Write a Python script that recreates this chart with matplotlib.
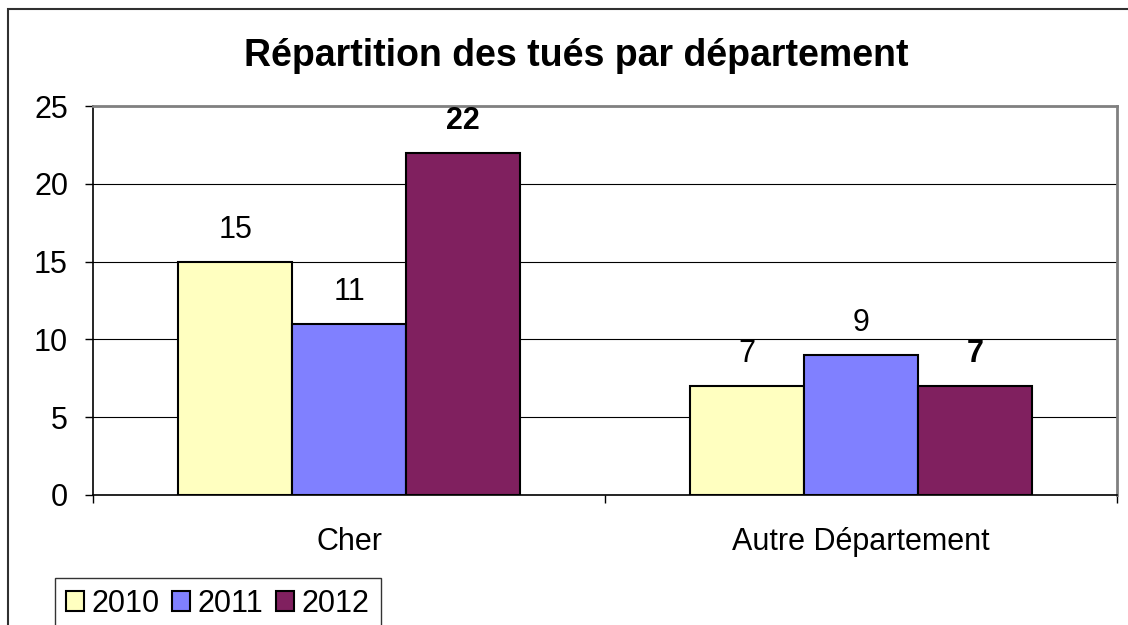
import numpy as np
import matplotlib.pyplot as plt
from matplotlib.patches import Rectangle

plt.rcParams['font.family'] = ['Liberation Sans', 'DejaVu Sans']

categories = ['Cher', 'Autre Département']
years = ['2010', '2011', '2012']
values_2010 = [15, 7]
values_2011 = [11, 9]
values_2012 = [22, 7]
colors = ['#FFFFC0', '#8080FF', '#80205F']

fig = plt.figure(figsize=(11.28, 6.25), dpi=100)
ax = fig.add_axes([93 / 1128, 130 / 625, 1024 / 1128, 389 / 625])

x = np.arange(len(categories))
w = 1 / 4.5
series = [values_2010, values_2011, values_2012]
for i, (vals, col, yr) in enumerate(zip(series, colors, years)):
    bars = ax.bar(x + (i - 1) * w, vals, w, color=col, edgecolor='black',
                  linewidth=1.5, label=yr, zorder=3)
    weight = 'bold' if yr == '2012' else 'normal'
    for b, v in zip(bars, vals):
        ax.annotate(str(v), (b.get_x() + b.get_width() / 2, v),
                    xytext=(0, 12), textcoords='offset points',
                    ha='center', va='bottom', fontsize=22, fontweight=weight)

ax.set_xlim(-0.5, 1.5)
ax.set_ylim(0, 25)
ax.set_yticks(range(0, 26, 5))
ax.tick_params(axis='y', labelsize=22, length=6, width=1, pad=12)
ax.set_xticks(x)
ax.set_xticklabels(categories)
ax.set_xticks([-0.5, 0.5, 1.5], minor=True)
ax.tick_params(axis='x', which='major', labelsize=22, length=0, pad=23)
ax.tick_params(axis='x', which='minor', length=6, width=1)
ax.grid(axis='y', color='black', linewidth=0.8, zorder=0)

for s in ['top', 'right']:
    ax.spines[s].set_color('#808080')
    ax.spines[s].set_linewidth(2)
ax.spines['left'].set_linewidth(1.2)
ax.spines['bottom'].set_linewidth(1.2)

fig.text(576 / 1128, 1 - 56 / 625, 'Répartition des tués par département',
         ha='center', va='center', fontsize=27, fontweight='bold')

# outer chart border (cut at right and bottom)
fig.patches.append(Rectangle((8 / 1128, -0.1), 1.2, 1 - 9 / 625 + 0.1,
                             transform=fig.transFigure, fill=False,
                             edgecolor='#303030', linewidth=1.5))

leg = fig.legend(loc='upper left', bbox_to_anchor=(55 / 1128, 1 - 578 / 625),
                 ncol=3, fontsize=22, frameon=True, fancybox=False,
                 handlelength=0.6, handleheight=0.6, handletextpad=0.25,
                 columnspacing=0.4, borderaxespad=0, borderpad=0.35)
leg.get_frame().set_edgecolor('black')
leg.get_frame().set_linewidth(1)

fig.savefig('out.png', dpi=100)
